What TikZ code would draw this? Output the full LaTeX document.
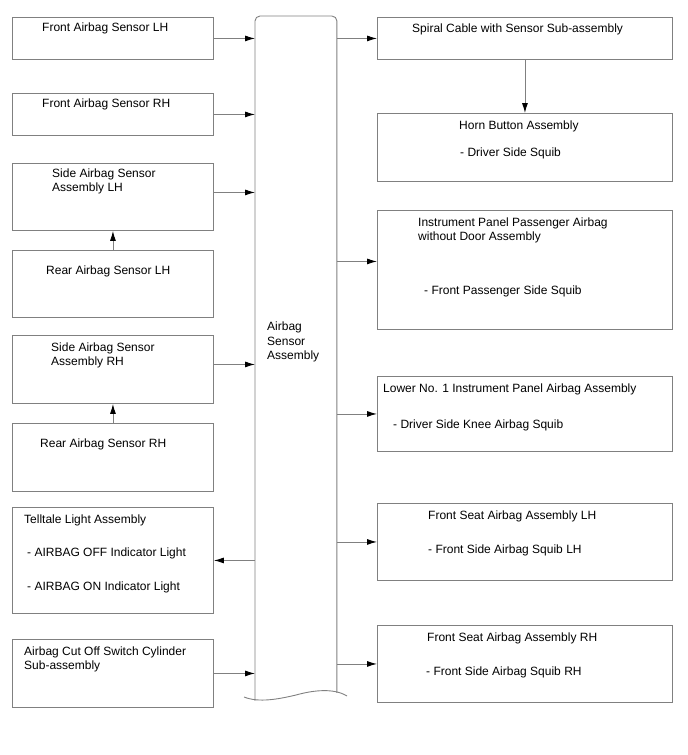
\documentclass[tikz,border=0pt]{standalone}
\usepackage{fontspec}
\setmainfont{Liberation Sans}
\usepackage{xcolor}
\usepackage{tikz}
\usetikzlibrary{arrows.meta,positioning}
\definecolor{linegray}{RGB}{128,128,128}
\tikzset{
  abox/.style={rectangle, draw=linegray, line width=0.9pt, inner sep=0pt,
    anchor=north west},
  lbox/.style={abox, minimum width=201pt},
  rbox/.style={abox, minimum width=295pt},
  atext/.style={inner sep=0pt, align=left, font=\fontsize{12}{14}\selectfont},
  aarrow/.style={-{Latex[length=10pt,width=6pt,color=black]}, linegray, line width=0.9pt}
}
\begin{document}
\begin{tikzpicture}[x=1pt,y=-1pt]
        \useasboundingbox (0,0) rectangle (688,755);
        % airbag sensor assembly (centre column)
        \node[abox,draw=none,minimum width=81pt,minimum height=684pt] (asm) at (255,16) {};
        \draw[linegray,line width=0.9pt,rounded corners=5pt] (asm.south west) -- (asm.north west)
          -- (asm.north east) -- ([yshift=8pt]asm.south east);
        \draw[linegray,line width=0.9pt] (244,697) .. controls (259,703) and (279,699) .. (296,695)
          .. controls (314,690) and (334,688) .. (347,696);
        \node[atext,below right=306pt and 12pt of asm.north west,font=\fontsize{12}{14.5}\selectfont] (asm-t) {Airbag\\Sensor\\Assembly};
        % left column
        \node[lbox,minimum height=42pt] (fl) at (12,17) {};
        \node[atext,below right=6pt and 30pt of fl.north west] (fl-t) {Front Airbag Sensor LH};
        \node[lbox,minimum height=42pt] (fr) at (12,93) {};
        \node[atext,below right=6pt and 30pt of fr.north west] (fr-t) {Front Airbag Sensor RH};
        \node[lbox,minimum height=67pt] (sl) at (12,163) {};
        \node[atext,below right=6pt and 40pt of sl.north west] (sl-t) {Side Airbag Sensor\\Assembly LH};
        \node[lbox,minimum height=67pt] (rl) at (12,250) {};
        \node[atext,below right=16pt and 34pt of rl.north west] (rl-t) {Rear Airbag Sensor LH};
        \node[lbox,minimum height=68pt] (sr) at (12,335) {};
        \node[atext,below right=8pt and 39pt of sr.north west] (sr-t) {Side Airbag Sensor\\Assembly RH};
        \node[lbox,minimum height=68pt] (rr) at (12,423) {};
        \node[atext,below right=16pt and 28pt of rr.north west] (rr-t) {Rear Airbag Sensor RH};
        \node[lbox,minimum height=106pt] (tt) at (12,507) {};
        \node[atext,below right=8pt and 12pt of tt.north west] (tt-t) {Telltale Light Assembly};
        \node[atext,below right=41pt and 15pt of tt.north west] (tt-s1) {- AIRBAG OFF Indicator Light};
        \node[atext,below right=75pt and 15pt of tt.north west] (tt-s2) {- AIRBAG ON Indicator Light};
        \node[lbox,minimum height=68pt] (co) at (12,639) {};
        \node[atext,below right=8pt and 12pt of co.north west] (co-t) {Airbag Cut Off Switch Cylinder\\Sub-assembly};
        % right column
        \node[rbox,minimum height=42pt] (sp) at (377,17) {};
        \node[atext,below right=7pt and 35pt of sp.north west] (sp-t) {Spiral Cable with Sensor Sub-assembly};
        \node[rbox,minimum height=68pt] (hb) at (377,113) {};
        \node[atext,below right=8pt and 82pt of hb.north west] (hb-t) {Horn Button Assembly};
        \node[atext,below right=35pt and 83pt of hb.north west] (hb-s) {- Driver Side Squib};
        \node[rbox,minimum height=119pt] (ip) at (377,210) {};
        \node[atext,below right=8pt and 41pt of ip.north west,font=\fontsize{12}{13.5}\selectfont] (ip-t) {Instrument Panel Passenger Airbag\\without Door Assembly};
        \node[atext,below right=76pt and 47pt of ip.north west] (ip-s) {- Front Passenger Side Squib};
        \node[rbox,minimum height=75pt] (lo) at (377,376) {};
        \node[atext,below right=8pt and 6pt of lo.north west] (lo-t) {Lower No. 1 Instrument Panel Airbag Assembly};
        \node[atext,below right=44pt and 16pt of lo.north west] (lo-s) {- Driver Side Knee Airbag Squib};
        \node[rbox,minimum height=77pt] (fsl) at (377,503) {};
        \node[atext,below right=8pt and 51pt of fsl.north west] (fsl-t) {Front Seat Airbag Assembly LH};
        \node[atext,below right=42pt and 51pt of fsl.north west] (fsl-s) {- Front Side Airbag Squib LH};
        \node[rbox,minimum height=77pt] (fsr) at (377,625) {};
        \node[atext,below right=8pt and 50pt of fsr.north west] (fsr-t) {Front Seat Airbag Assembly RH};
        \node[atext,below right=42pt and 49pt of fsr.north west] (fsr-s) {- Front Side Airbag Squib RH};
        % connectors
        \coordinate (slout) at ([yshift=4.5pt]sl.east);
        \coordinate (srout) at ([yshift=5pt]sr.east);
        \coordinate (ipin) at ([yshift=8.5pt]ip.west);
        \draw[aarrow] (fl.east) -- (fl.east -| asm.west);
        \draw[aarrow] (fr.east) -- (fr.east -| asm.west);
        \draw[aarrow] (slout) -- (slout -| asm.west);
        \draw[aarrow] (srout) -- (srout -| asm.west);
        \draw[aarrow] (co.east) -- (co.east -| asm.west);
        \draw[aarrow] (tt.east -| asm.west) -- (tt.east);
        \draw[aarrow] (rl.north) -- (sl.south);
        \draw[aarrow] (rr.north) -- (sr.south);
        \draw[aarrow] (sp.west -| asm.east) -- (sp.west);
        \draw[aarrow] (sp.south) -- (hb.north);
        \draw[aarrow] (ipin -| asm.east) -- (ipin);
        \draw[aarrow] (lo.west -| asm.east) -- (lo.west);
        \draw[aarrow] (fsl.west -| asm.east) -- (fsl.west);
        \draw[aarrow] (fsr.west -| asm.east) -- (fsr.west);
      \end{tikzpicture}
\end{document}
